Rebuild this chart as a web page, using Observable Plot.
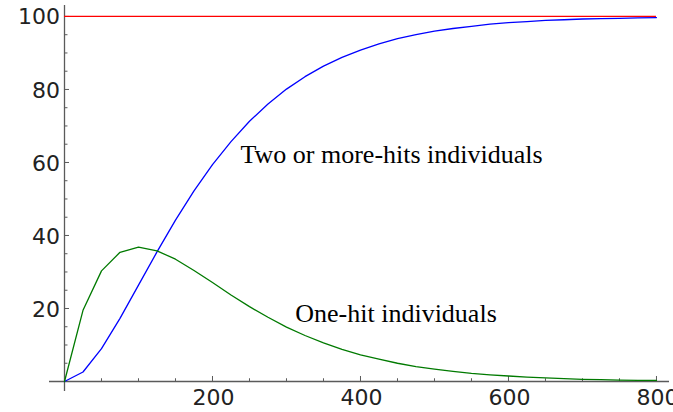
<!DOCTYPE html>
<html><head><meta charset="utf-8">
<script src="https://cdn.jsdelivr.net/npm/d3@7"></script>
<script src="https://cdn.jsdelivr.net/npm/@observablehq/plot@0.6"></script>
<style>
html,body{margin:0;padding:0;background:#fff;overflow:hidden}
g[aria-label="tick-labels"] text{letter-spacing:2px}
</style>
</head><body><div id="chart"></div>
<script>
const dose = [0,25,50,75,100,125,150,175,200,225,250,275,300,325,350,375,400,425,450,475,500,525,550,575,600,625,650,675,700,725,750,775,800];
const oneHit = [0,19.5,30.3,35.4,36.8,35.8,33.5,30.4,27.1,23.7,20.5,17.6,14.9,12.6,10.6,8.8,7.3,6.1,5.0,4.1,3.4,2.8,2.2,1.8,1.5,1.2,1.0,0.8,0.6,0.5,0.4,0.3,0.3];
const twoOrMoreHits = [0,2.6,9.0,17.3,26.4,35.5,44.2,52.2,59.4,65.7,71.3,76.0,80.1,83.5,86.4,88.8,90.8,92.5,93.9,95.0,96.0,96.7,97.3,97.9,98.3,98.6,98.9,99.1,99.3,99.4,99.5,99.6,99.7];
const totalLevel = 100;
const xMajorTicks = [200,400,600,800];
const xMinorTicks = [50,100,150,250,300,350,450,500,550,650,700,750];
const yMajorTicks = [20,40,60,80,100];
const yMinorTicks = [5,10,15,25,30,35,45,50,55,65,70,75,85,90,95];
const annotations = ["Two or more-hits individuals","One-hit individuals"];
const annotationX = [442,448];
const annotationY = [62.2,18.6];

const rows = dose.map((d,i)=>({dose:d, one:oneHit[i], two:twoOrMoreHits[i]}));
const axisColor = "#5a5a5a";
const xDom = [-20.27, 817.6];
const yDom = [-2.74, 103];

const chart = Plot.plot({
  width: 673, height: 412,
  marginLeft: 49, marginRight: 4, marginTop: 5, marginBottom: 21,
  x: {domain: xDom, axis: null},
  y: {domain: yDom, axis: null},
  marks: [
    Plot.ruleY([0], {x1: xDom[0], x2: xDom[1], stroke: axisColor, strokeWidth: 1.3}),
    Plot.ruleX([0], {y1: yDom[0], y2: yDom[1], stroke: axisColor, strokeWidth: 1.3}),
    Plot.ruleX(xMajorTicks, {x: d=>d, y1: 0, y2: 1.37, stroke: axisColor}),
    Plot.ruleX(xMinorTicks, {x: d=>d, y1: 0, y2: 0.75, stroke: axisColor}),
    Plot.ruleY(yMajorTicks, {y: d=>d, x1: 0, x2: 6.76, stroke: axisColor}),
    Plot.ruleY(yMinorTicks, {y: d=>d, x1: 0, x2: 4.7, stroke: axisColor}),
    Plot.text(xMajorTicks, {x: d=>d, y: 0, dy: 16, dx: 1, text: d=>String(d), fontFamily: "DejaVu Sans", fontSize: 22, fill: "#222", ariaLabel: "tick-labels"}),
    Plot.text(yMajorTicks, {x: 0, y: d=>d, dy: 1, dx: -4.5, textAnchor: "end", text: d=>String(d), fontFamily: "DejaVu Sans", fontSize: 22, fill: "#222", ariaLabel: "tick-labels"}),
    Plot.line(rows, {x: "dose", y: "two", stroke: "#0000ff", strokeWidth: 1.3}),
    Plot.line(rows, {x: "dose", y: "one", stroke: "#007a00", strokeWidth: 1.3}),
    Plot.ruleY([totalLevel], {x1: dose[0], x2: dose[dose.length-1], stroke: "#ff0000", strokeWidth: 1.3}),
    Plot.text(annotations, {x: (d,i)=>annotationX[i], y: (d,i)=>annotationY[i], text: d=>d, fontFamily: "Liberation Serif", fontSize: 26, fill: "#000"})
  ]
});
document.getElementById("chart").appendChild(chart);
</script>
</body></html>
